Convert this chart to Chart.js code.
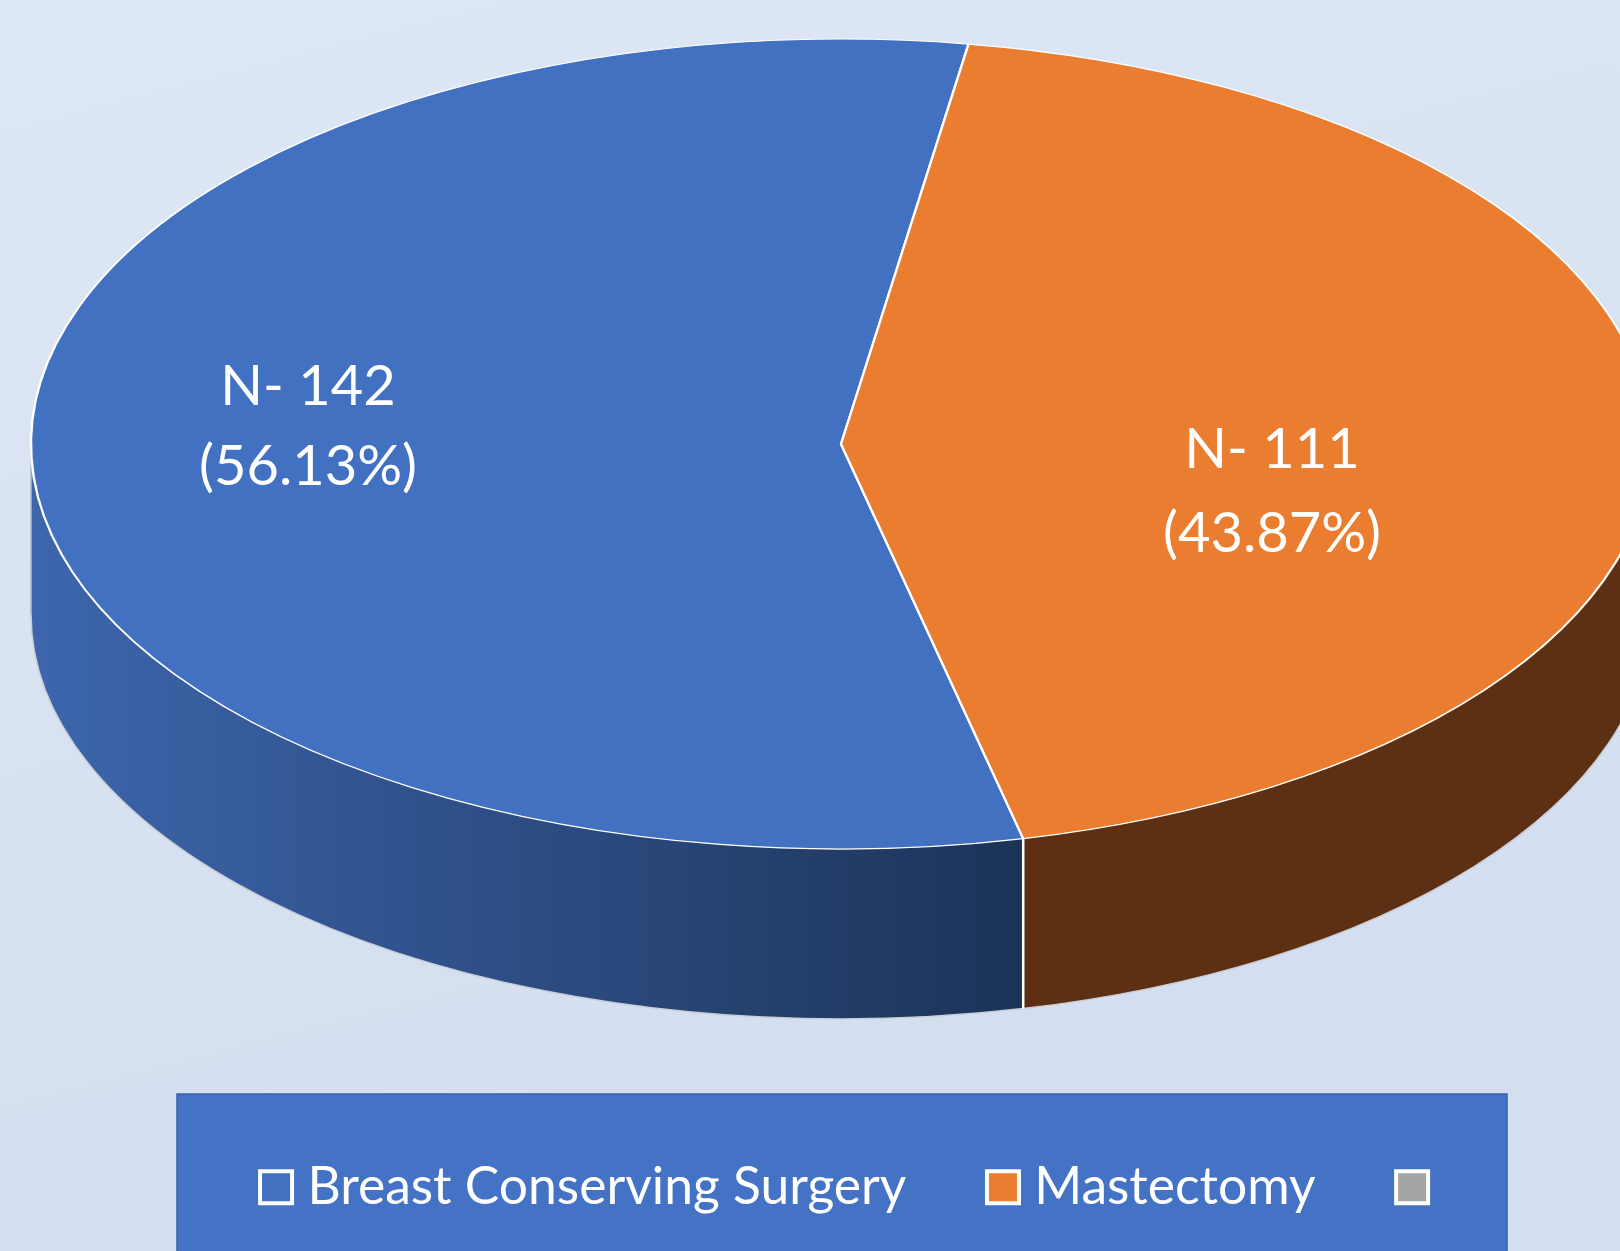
<!DOCTYPE html>
<html>
<head>
<meta charset="utf-8">
<style>
html,body{margin:0;padding:0;width:1620px;height:1251px;overflow:hidden;background:#dbe4f2}
#wrap{position:relative;width:1620px;height:1251px}
canvas{display:block}
</style>
<script src="https://cdn.jsdelivr.net/npm/chart.js@4"></script>
</head>
<body>
<div id="wrap"><canvas id="c" width="1620" height="1251"></canvas></div>
<script>
const categories = ["Breast Conserving Surgery", "Mastectomy", ""];
const counts = [142, 111, 0];
const percents = ["56.13%", "43.87%", ""];
const topColors = ["#4371C1", "#EB7D30", "#A5A5A5"];

const FONT = "Lato, Carlito, sans-serif";
const CENTER = {x: 841, y: 444};
const TILT = 0.5;
const DEPTH = 170;
const labelSpots = [{x: 308, y: 387, dy: 80}, {x: 1272, y: 450, dy: 84}];

function sideFill(ctx, i) {
  if (i === 0) {
    const g = ctx.createLinearGradient(31, 0, 1023, 0);
    g.addColorStop(0, "#3D66AD");
    g.addColorStop(1, "#1C3358");
    return g;
  }
  return "#5E3013";
}

const tiltedPie = {
  id: "tiltedPie",
  beforeDraw(chart) {
    const {ctx, width, height} = chart;
    ctx.save();
    const bg = ctx.createLinearGradient(0, 0, width * 0.2, height);
    bg.addColorStop(0, "#DEE7F4");
    bg.addColorStop(1, "#D3DEF0");
    ctx.fillStyle = bg;
    ctx.fillRect(0, 0, width, height);
    ctx.fillStyle = "#4472C4";
    ctx.strokeStyle = "#3A62A8";
    ctx.lineWidth = 1.5;
    ctx.fillRect(177, 1094, 1330, 170);
    ctx.strokeRect(177, 1094, 1330, 170);
    ctx.restore();
  },
  beforeDatasetsDraw(chart) {
    const {ctx} = chart;
    const arcs = chart.getDatasetMeta(0).data;
    const first = arcs[0];
    const walls = [];
    arcs.forEach((arc, i) => {
      const p = arc.getProps(["startAngle", "endAngle", "outerRadius"]);
      if (p.endAngle <= p.startAngle) return;
      [0, Math.PI * 2].forEach(k => {
        const lo = Math.max(p.startAngle, k), hi = Math.min(p.endAngle, k + Math.PI);
        if (hi > lo) walls.push({i, lo, hi, r: p.outerRadius});
      });
    });
    ctx.save();
    walls.forEach(w => {
      ctx.beginPath();
      ctx.ellipse(CENTER.x, CENTER.y, w.r, w.r * TILT, 0, w.lo, w.hi);
      ctx.ellipse(CENTER.x, CENTER.y + DEPTH, w.r, w.r * TILT, 0, w.hi, w.lo, true);
      ctx.closePath();
      ctx.fillStyle = sideFill(ctx, w.i);
      ctx.fill();
      ctx.lineWidth = 1.5;
      ctx.strokeStyle = "#C9CED6";
      ctx.beginPath();
      ctx.ellipse(CENTER.x, CENTER.y + DEPTH, w.r, w.r * TILT, 0, w.hi, w.lo, true);
      ctx.stroke();
    });
    walls.forEach(w => {
      if (w.lo > 0 && w.lo < Math.PI) {
        const x = CENTER.x + w.r * Math.cos(w.lo), y = CENTER.y + w.r * TILT * Math.sin(w.lo);
        ctx.strokeStyle = "#FFFFFF";
        ctx.lineWidth = 2.5;
        ctx.beginPath();
        ctx.moveTo(x, y);
        ctx.lineTo(x, y + DEPTH);
        ctx.stroke();
      }
    });
    ctx.strokeStyle = "#B9BEC8";
    ctx.lineWidth = 1.5;
    ctx.beginPath();
    ctx.moveTo(CENTER.x - first.outerRadius, CENTER.y);
    ctx.lineTo(CENTER.x - first.outerRadius, CENTER.y + DEPTH);
    ctx.stroke();
    ctx.restore();

    ctx.save();
    ctx.translate(CENTER.x, CENTER.y);
    ctx.scale(1, TILT);
    ctx.translate(-first.x, -first.y);
  },
  afterDatasetsDraw(chart) {
    const {ctx} = chart;
    ctx.restore();
    ctx.save();
    ctx.fillStyle = "#FFFFFF";
    ctx.textAlign = "center";
    ctx.textBaseline = "middle";
    ctx.font = "56px " + FONT;
    labelSpots.forEach((s, i) => {
      ctx.fillText("N- " + counts[i], s.x, s.y);
      ctx.fillText("(" + percents[i] + ")", s.x, s.y + s.dy);
    });
    ctx.restore();
  }
};

new Chart(document.getElementById("c"), {
  type: "pie",
  data: {
    labels: categories,
    datasets: [{
      data: counts,
      backgroundColor: topColors,
      borderColor: "#FFFFFF",
      borderWidth: 2.4,
      clip: false
    }]
  },
  options: {
    responsive: false,
    animation: false,
    rotation: 167,
    radius: 810,
    layout: {padding: {left: 94, right: 0, top: 0, bottom: 28}},
    plugins: {
      tooltip: {enabled: false},
      legend: {
        display: true,
        position: "bottom",
        labels: {
          color: "#FFFFFF",
          font: {family: FONT, size: 51.6},
          usePointStyle: true,
          pointStyle: "rect",
          boxWidth: 11,
          boxHeight: 32,
          padding: 91,
          generateLabels(chart) {
            return Chart.overrides.doughnut.plugins.legend.labels.generateLabels(chart)
              .map(item => Object.assign(item, {lineWidth: 4}));
          }
        }
      }
    }
  },
  plugins: [tiltedPie]
});
</script>
</body>
</html>
